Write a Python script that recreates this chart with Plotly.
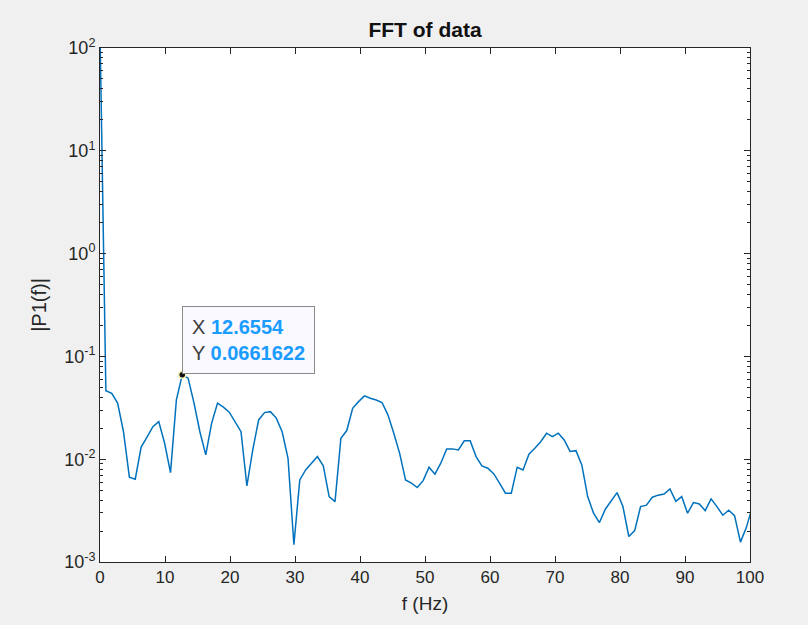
import numpy as np
import plotly.graph_objects as go

df = 0.903957  # frequency resolution (Hz)
P1 = [150.0, 0.0464, 0.0438, 0.0351, 0.0185, 0.00668, 0.00639, 0.0131, 0.0164, 0.0207,
      0.0232, 0.0143, 0.00741, 0.0377, 0.0661622, 0.0614, 0.0351, 0.0185, 0.0110, 0.0224,
      0.0351, 0.0321, 0.0287, 0.0232, 0.0185, 0.00550, 0.0123, 0.0241, 0.0284, 0.0290,
      0.0251, 0.0185, 0.0102, 0.00147, 0.00629, 0.00787, 0.00914, 0.0106, 0.00861, 0.00433,
      0.00387, 0.0160, 0.0190, 0.0313, 0.0363, 0.0413, 0.0392, 0.0377, 0.0356, 0.0270,
      0.0179, 0.0114, 0.00629, 0.00584, 0.00530, 0.00619, 0.00836, 0.00715, 0.00914, 0.0126,
      0.0126, 0.0123, 0.0151, 0.0151, 0.0106, 0.00861, 0.00817, 0.00724, 0.00584, 0.00467,
      0.00467, 0.00836, 0.00787, 0.0112, 0.0128, 0.0148, 0.0179, 0.0166, 0.0179, 0.0154,
      0.0119, 0.0121, 0.00881, 0.00433, 0.00298, 0.00242, 0.00326, 0.00396, 0.00473, 0.00346,
      0.00177, 0.00202, 0.00346, 0.00357, 0.00427, 0.00447, 0.00459, 0.00514, 0.00390, 0.00433,
      0.00298, 0.00378, 0.00367, 0.00316, 0.00411, 0.00346, 0.00285, 0.00319, 0.00282, 0.00156,
      0.00216, 0.00341]
f = [i * df for i in range(len(P1))]

tip_x = 12.6554
tip_y = 0.0661622

x_ticks = [0, 10, 20, 30, 40, 50, 60, 70, 80, 90, 100]
y_exps = [-3, -2, -1, 0, 1, 2]
y_ticks = [10.0 ** e for e in y_exps]
y_ticktext = ["10<sup>%d</sup>" % e for e in y_exps]
y_minor = [m * 10.0 ** e for e in y_exps[:-1] for m in range(2, 10)]

axis_col = "#262626"
fig = go.Figure()
fig.add_trace(go.Scatter(x=f, y=P1, mode="lines",
                         line=dict(color="#0072BD", width=1.5), hoverinfo="skip"))
fig.add_trace(go.Scatter(x=[tip_x], y=[tip_y], mode="markers",
                         marker=dict(color="#111111", size=7,
                                     line=dict(color="#f5f0b0", width=1.5)),
                         hoverinfo="skip"))

fig.add_annotation(x=tip_x, y=np.log10(tip_y), xref="x", yref="y",
                   text=("X <b><span style='color:#1a9cff'>12.6554</span></b><br>"
                         "Y <b><span style='color:#1a9cff'>0.0661622</span></b>"),
                   showarrow=False, xanchor="left", yanchor="bottom", align="left",
                   xshift=0, yshift=1,
                   font=dict(family="Liberation Sans, Arial", size=20, color="#404040"),
                   bgcolor="#f9f9ff", bordercolor="#8c8c8c", borderwidth=1, borderpad=9)

fig.update_layout(
    width=808, height=625,
    paper_bgcolor="#f0f0f0", plot_bgcolor="white",
    margin=dict(l=100, r=58, t=48, b=63),
    showlegend=False,
    font=dict(family="Liberation Sans, Arial", size=17, color=axis_col),
    title=dict(text="<b>FFT of data</b>", x=0.526, xanchor="center", y=0.952,
               yanchor="middle", font=dict(size=21, color="#111111")),
)
fig.update_xaxes(range=[0, 100], tickvals=x_ticks, ticks="inside", ticklen=6,
                 tickcolor=axis_col, showline=True, linecolor=axis_col, linewidth=1,
                 mirror="ticks", showgrid=False, zeroline=False,
                 title=dict(text="f (Hz)", font=dict(size=19), standoff=10),
                 tickfont=dict(size=17))
fig.update_yaxes(type="log", range=[-3, 2], tickvals=y_ticks, ticktext=y_ticktext,
                 ticks="inside", ticklen=6, tickcolor=axis_col, showline=True,
                 linecolor=axis_col, linewidth=1, mirror="ticks", showgrid=False,
                 zeroline=False,
                 minor=dict(tickvals=y_minor, ticks="inside", ticklen=3,
                            tickcolor=axis_col, showgrid=False),
                 title=dict(text="|P1(f)|", font=dict(size=20), standoff=12),
                 tickfont=dict(size=18))

fig.write_html("out.html", config={"displayModeBar": False},
               post_script="document.body.style.margin='0';"
                           "document.body.style.background='#f0f0f0';")
